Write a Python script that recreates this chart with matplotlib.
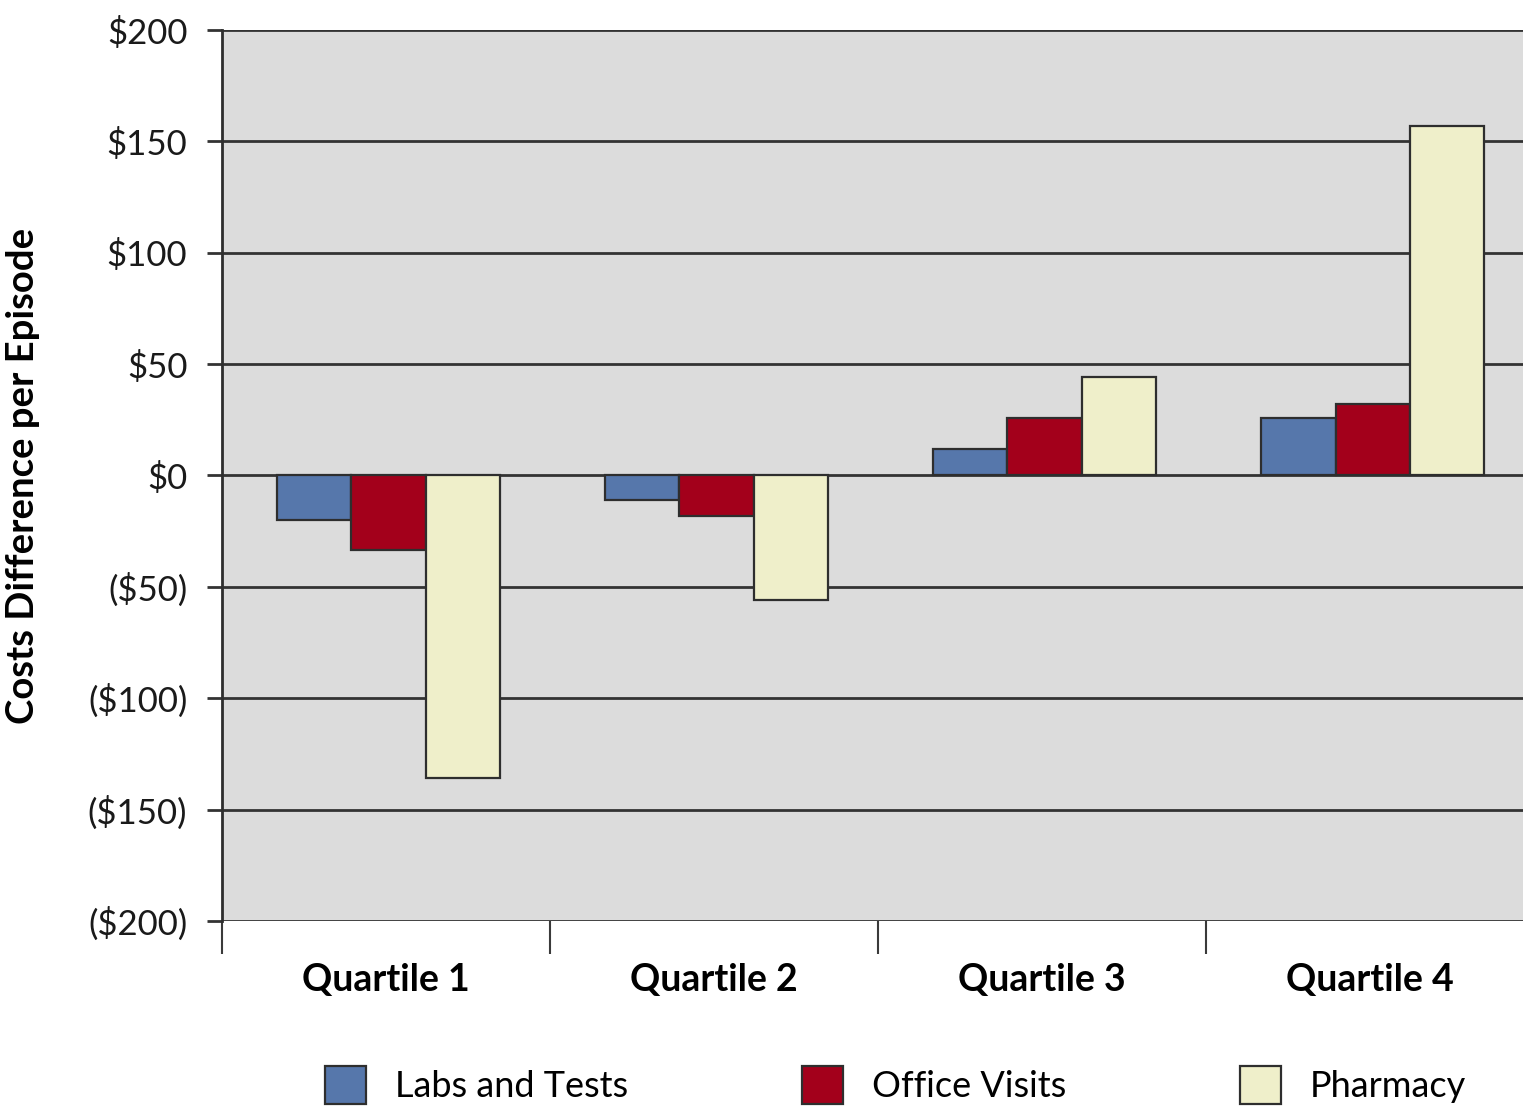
import matplotlib.pyplot as plt
import numpy as np

plt.rcParams['font.family'] = ['Lato', 'DejaVu Sans']

quartiles = ["Quartile 1", "Quartile 2", "Quartile 3", "Quartile 4"]
labs_tests = [-20, -11, 12, 26]
office_visits = [-33.5, -18, 26, 32]
pharmacy = [-136, -56, 44, 157]

series_names = ["Labs and Tests", "Office Visits", "Pharmacy"]
colors = ["#5677ab", "#a3001b", "#efefca"]

y_ticks = [-200, -150, -100, -50, 0, 50, 100, 150, 200]


def money(v):
    return f"${v}" if v >= 0 else f"(${-v})"


fig = plt.figure(figsize=(15.23, 11.08), dpi=100)
ax = fig.add_axes([0.1458, 0.1688, 0.8615, 0.8041])
ax.set_facecolor("#dcdcdc")

x = np.arange(len(quartiles))
w = 0.227
for i, (vals, name, c) in enumerate(zip([labs_tests, office_visits, pharmacy], series_names, colors)):
    ax.bar(x + (i - 1) * w + 0.008, vals, w, color=c, edgecolor="#2e2e2e", linewidth=1.6,
           label=name, zorder=3)

ax.set_ylim(-200, 200)
ax.set_xlim(-0.5, 3.5)
ax.set_yticks(y_ticks)
ax.set_yticklabels([money(v) for v in y_ticks], fontsize=25, color="#1a1a1a")
ax.yaxis.grid(True, color="#333333", linewidth=2.0, zorder=1)
ax.set_axisbelow(True)

ax.set_xticks(x)
ax.set_xticklabels(quartiles, fontsize=27, fontweight="bold")
ax.set_xticks(np.arange(-0.5, 3.5, 1.0), minor=True)
ax.tick_params(axis="x", which="major", length=0, pad=30)
ax.tick_params(axis="x", which="minor", length=24, width=1.5, color="#3a3a3a")
ax.tick_params(axis="y", length=11, width=2.0, color="#333333", pad=14)

for side in ["top", "right", "bottom"]:
    ax.spines[side].set_visible(False)
ax.spines["left"].set_color("#2e2e2e")
ax.spines["left"].set_linewidth(2.0)

ax.set_ylabel("Costs Difference per Episode", fontsize=27.5, fontweight="bold")
ax.yaxis.set_label_coords(-0.139, 0.5)

fig.legend(loc="center", bbox_to_anchor=(0.588, 0.021), ncol=3, frameon=False,
           fontsize=26, handlelength=1.15, handleheight=1.25, handletextpad=0.8,
           columnspacing=4.8)

fig.savefig("out.png", dpi=100)
